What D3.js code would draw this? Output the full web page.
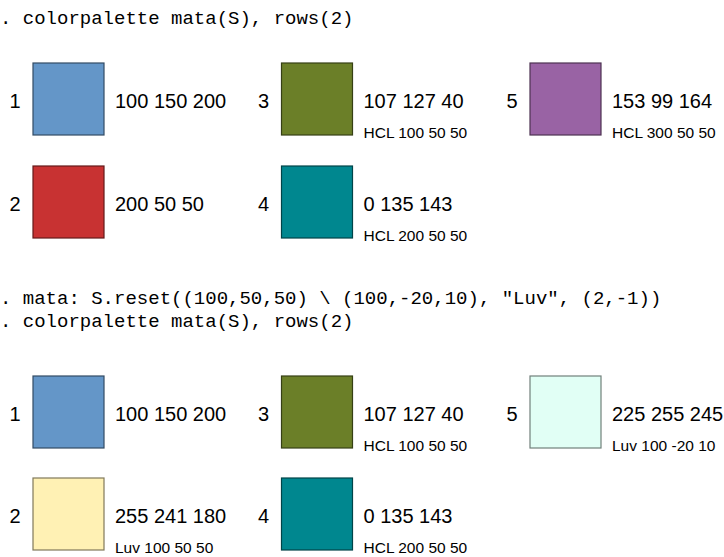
<!DOCTYPE html>
<html>
<head>
<meta charset="utf-8">
<script src="https://cdn.jsdelivr.net/npm/d3@7"></script>
<style>
  body { margin: 0; background: #fff; }
  .cmd { font-family: "Courier New", "Nimbus Mono PS", "Liberation Mono", monospace; font-size: 19px; fill: #000; }
  .lab { font-family: Helvetica, Arial, "Liberation Sans", sans-serif; fill: #000; }
</style>
</head>
<body>
<svg width="724" height="557"></svg>
<script>
// ---- data ----
const commands1 = [". colorpalette mata(S), rows(2)"];
const commands2 = [". mata: S.reset((100,50,50) \\ (100,-20,10), \"Luv\", (2,-1))",
                   ". colorpalette mata(S), rows(2)"];

const rgb1 = [[100,150,200], [200,50,50], [107,127,40], [0,135,143], [153,99,164]];
const info1 = ["", "", "HCL 100 50 50", "HCL 200 50 50", "HCL 300 50 50"];

const rgb2 = [[100,150,200], [255,241,180], [107,127,40], [0,135,143], [225,255,245]];
const info2 = ["", "Luv 100 50 50", "HCL 100 50 50", "HCL 200 50 50", "Luv 100 -20 10"];

const nrows = 2;

// ---- layout ----
const svg = d3.select("svg");
const side = 71;
const xs = d3.scaleLinear().domain([0, 2]).range([33, 530]);   // column -> square left

function drawCommands(lines, y0) {
  svg.append("g").selectAll("text")
    .data(lines)
    .join("text")
    .attr("class", "cmd")
    .attr("x", 0)
    .attr("y", (d, i) => y0 + i * 23)
    .attr("xml:space", "preserve")
    .style("white-space", "pre")
    .text(d => d);
}

function drawPalette(rgbs, infos, rowRange) {
  const ys = d3.scaleLinear().domain([0, nrows - 1]).range(rowRange);
  const items = rgbs.map((c, i) => ({
    n: i + 1, c: c, info: infos[i],
    col: Math.floor(i / nrows), row: i % nrows
  }));
  const g = svg.append("g");
  const cell = g.selectAll("g").data(items).join("g")
    .attr("transform", d => "translate(" + xs(d.col) + "," + ys(d.row) + ")");

  cell.append("rect")
    .attr("x", 0).attr("y", 0)
    .attr("width", side).attr("height", side + 1)
    .attr("fill", d => d3.rgb(d.c[0], d.c[1], d.c[2]))
    .attr("stroke", d => d3.rgb(d.c[0] * 0.5, d.c[1] * 0.5, d.c[2] * 0.5))
    .attr("stroke-width", 1.2);

  cell.append("text")
    .attr("class", "lab")
    .attr("x", -18).attr("y", 45)
    .attr("text-anchor", "middle")
    .style("font-size", "20px")
    .text(d => d.n);

  cell.append("text")
    .attr("class", "lab")
    .attr("x", 82).attr("y", 45)
    .style("font-size", "20px")
    .text(d => d.c.join(" "));

  cell.append("text")
    .attr("class", "lab")
    .attr("x", 82).attr("y", 75)
    .style("font-size", "15.5px")
    .text(d => d.info);
}

drawCommands(commands1, 24);
drawPalette(rgb1, info1, [63, 166]);
drawCommands(commands2, 304);
drawPalette(rgb2, info2, [376, 478]);
</script>
</body>
</html>
